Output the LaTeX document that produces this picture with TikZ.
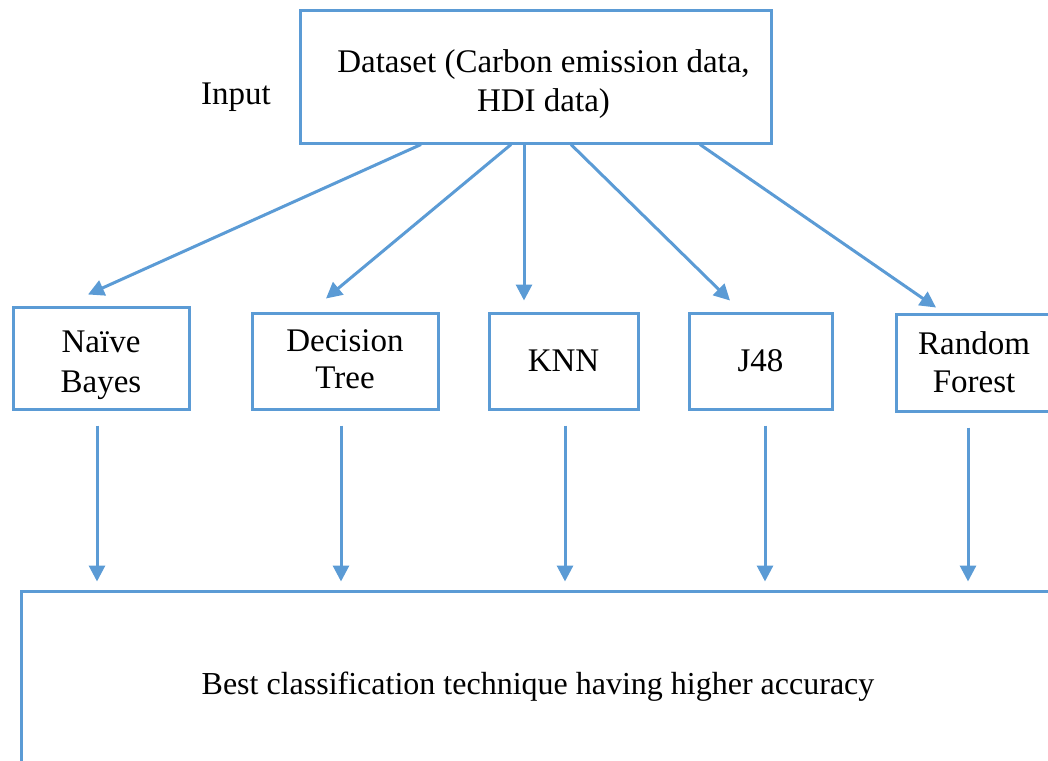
\documentclass[tikz,border=0pt]{standalone}
\usepackage{fontspec}
\setmainfont{Liberation Serif}
\usetikzlibrary{arrows.meta,calc}
\definecolor{wblue}{HTML}{5B9BD5}
\newcommand\movetext[3]{\raisebox{#2}[\height][\depth]{\hspace*{#1}\begin{tabular}{@{}c@{}}#3\end{tabular}\hspace*{-#1}}}
\tikzset{
  box/.style={draw=wblue, line width=3pt, fill=none, inner sep=0pt,
    font=\fontsize{33}{40}\selectfont},
  arr/.style={draw=wblue, line width=3pt, -{Triangle[width=16pt,length=16pt]}},
  vert/.style={arr, shorten <=15pt, shorten >=8pt},
  plain/.style={font=\fontsize{33}{40}\selectfont, inner sep=0pt}
}
\begin{document}
\begin{tikzpicture}[x=1pt,y=-1pt]
\useasboundingbox (0,0) rectangle (1048,760);
\node[box, minimum width=471pt, minimum height=132pt] (ds) at (535.5,77) {\movetext{8pt}{-7pt}{Dataset (Carbon emission data,\\HDI data)}};
\node[plain] (in) at (236,97) {Input};
\node[box, minimum width=176pt, minimum height=102pt] (nb) at (101,358) {\movetext{0pt}{-6pt}{Naïve\\Bayes}};
\node[box, font=\fontsize{33}{37}\selectfont, minimum width=186pt, minimum height=96pt] (dt) at (345,361) {\movetext{0pt}{-1.5pt}{Decision\\Tree}};
\node[box, minimum width=149pt, minimum height=96pt] (knn) at (563.5,361) {\movetext{0pt}{-2pt}{KNN}};
\node[box, minimum width=143pt, minimum height=96pt] (j48) at (760.5,361) {\movetext{0pt}{-2pt}{J48}};
\node[box, font=\fontsize{33}{38}\selectfont, minimum width=156pt, minimum height=97pt] (rf) at (974,362.5) {\movetext{0pt}{-3.5pt}{Random\\Forest}};
\node[box, font=\fontsize{32}{40}\selectfont, minimum width=1034pt, minimum height=184pt] (best) at (538,683) {\movetext{0pt}{-3pt}{Best classification technique having higher accuracy}};
\draw[arr] ([xshift=-114.5pt]ds.south) -- ([xshift=-13pt,yshift=11pt]nb.north);
\draw[arr] ([xshift=-24.5pt]ds.south) -- ([xshift=-19pt,yshift=13pt]dt.north);
\draw[arr] ([xshift=-11.5pt]ds.south) -- ([xshift=-39.5pt,yshift=11pt]knn.north);
\draw[arr] ([xshift=35.5pt]ds.south) -- ([xshift=-30.5pt,yshift=11pt]j48.north);
\draw[arr] ([xshift=164.5pt]ds.south) -- ([xshift=-38pt,yshift=5pt]rf.north);
\draw[vert] ([xshift=-4pt]nb.south) coordinate (t1) -- (t1 |- best.north);
\draw[vert] ([xshift=-4pt]dt.south) coordinate (t2) -- (t2 |- best.north);
\draw[vert] ([xshift=1.5pt]knn.south) coordinate (t3) -- (t3 |- best.north);
\draw[vert] ([xshift=4.5pt]j48.south) coordinate (t4) -- (t4 |- best.north);
\draw[vert] ([xshift=-6pt]rf.south) coordinate (t5) -- (t5 |- best.north);
\end{tikzpicture}
\end{document}
